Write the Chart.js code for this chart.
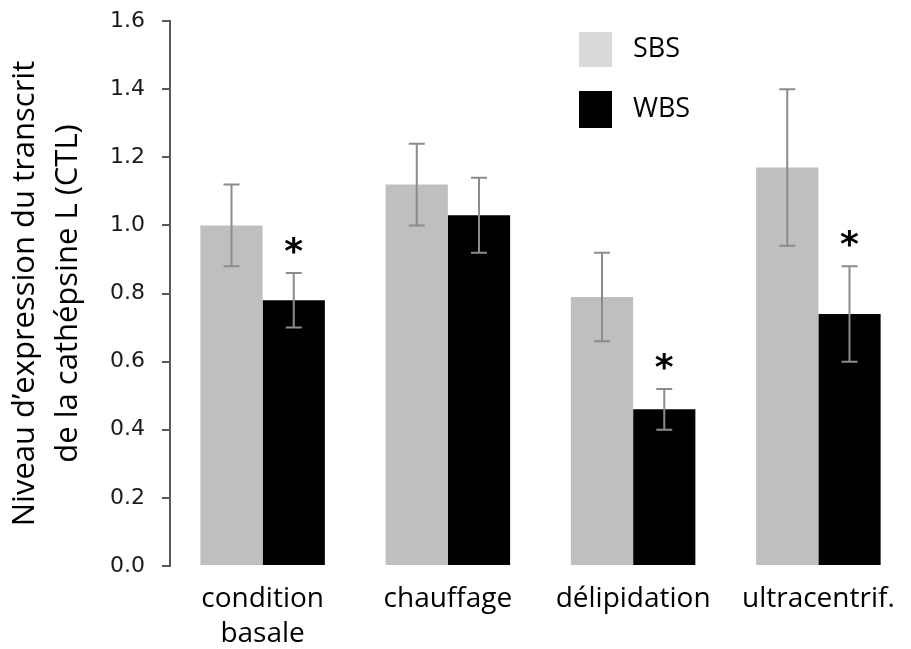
<!DOCTYPE html>
<html>
<head>
<meta charset="utf-8">
<script src="https://cdn.jsdelivr.net/npm/chart.js@4.4.1/dist/chart.umd.min.js"></script>
<style>
  html, body { margin: 0; padding: 0; background: #fff; }
</style>
</head>
<body>
<canvas id="chart" width="911" height="649"></canvas>
<script>
// data
const categories = [["condition", "basale"], "chauffage", "délipidation", "ultracentrif."]
const seriesNames = ["SBS", "WBS"]
const sbsValues = [1.00, 1.12, 0.79, 1.17]
const sbsErrors = [0.12, 0.12, 0.13, 0.23]
const wbsValues = [0.78, 1.03, 0.46, 0.74]
const wbsErrors = [0.08, 0.11, 0.06, 0.14]
const wbsSignificant = [true, false, true, true]
const yTicks = [0, 0.2, 0.4, 0.6, 0.8, 1.0, 1.2, 1.4, 1.6]

const TEXT_FONT = "'Open Sans', sans-serif"

// error bars + significance stars
const errorBarPlugin = {
  id: "errorBars",
  afterDatasetsDraw(chart) {
    const ctx = chart.ctx
    const y = chart.scales.y
    const errs = [sbsErrors, wbsErrors]
    ctx.save()
    chart.data.datasets.forEach((ds, i) => {
      const meta = chart.getDatasetMeta(i)
      meta.data.forEach((bar, j) => {
        const v = ds.data[j]
        const e = errs[i][j]
        const yTop = y.getPixelForValue(v + e)
        const yBot = y.getPixelForValue(v - e)
        ctx.strokeStyle = "#8c8c8c"
        ctx.lineWidth = 2
        ctx.beginPath()
        ctx.moveTo(bar.x, yTop); ctx.lineTo(bar.x, yBot)
        ctx.moveTo(bar.x - 8, yTop); ctx.lineTo(bar.x + 8, yTop)
        ctx.moveTo(bar.x - 8, yBot); ctx.lineTo(bar.x + 8, yBot)
        ctx.stroke()
        if (i === 1 && wbsSignificant[j]) {
          ctx.fillStyle = "#000"
          ctx.font = "bold 36px 'DejaVu Sans'"
          ctx.textAlign = "center"
          ctx.textBaseline = "alphabetic"
          ctx.fillText("*", bar.x, yTop - 10)
        }
      })
    })
    ctx.restore()
  }
}

// legend drawn inside the plot, top right
const legendPlugin = {
  id: "innerLegend",
  afterDraw(chart) {
    const ctx = chart.ctx
    const swatches = ["#d9d9d9", "#000000"]
    const rows = [{ y: 32, h: 35 }, { y: 91, h: 37 }]
    ctx.save()
    ctx.font = "27px " + TEXT_FONT
    ctx.textBaseline = "middle"
    ctx.textAlign = "left"
    seriesNames.forEach((name, i) => {
      ctx.fillStyle = swatches[i]
      ctx.fillRect(579, rows[i].y, 33, rows[i].h)
      ctx.fillStyle = "#000"
      ctx.fillText(name, 633, rows[i].y + rows[i].h / 2)
    })
    ctx.restore()
  }
}

new Chart(document.getElementById("chart"), {
  type: "bar",
  data: {
    labels: categories,
    datasets: [
      { label: seriesNames[0], data: sbsValues, backgroundColor: "#bfbfbf" },
      { label: seriesNames[1], data: wbsValues, backgroundColor: "#000000" }
    ]
  },
  options: {
    responsive: false,
    animation: false,
    devicePixelRatio: 1,
    layout: { padding: { left: 0, right: -9, top: 21, bottom: 0 } },
    datasets: {
      bar: { categoryPercentage: 0.672, barPercentage: 1.0 }
    },
    plugins: {
      legend: { display: false },
      tooltip: { enabled: false }
    },
    scales: {
      x: {
        grid: { display: false },
        border: { display: false },
        ticks: {
          color: "#000",
          padding: 8,
          maxRotation: 0,
          autoSkip: false,
          font: { family: TEXT_FONT, size: 28, lineHeight: 1.25 }
        },
        afterFit(scale) { scale.height = 83 }
      },
      y: {
        min: 0,
        max: 1.6,
        afterBuildTicks(scale) { scale.ticks = yTicks.map(v => ({ value: v })) },
        grid: { drawOnChartArea: false, drawTicks: true, tickLength: 8, color: "#595959", lineWidth: 2 },
        border: { display: true, color: "#595959", width: 2 },
        ticks: {
          color: "#1a1a1a",
          padding: 17,
          font: { family: "'DejaVu Sans'", size: 22 },
          callback: v => v.toFixed(1)
        },
        title: {
          display: true,
          text: ["Niveau d’expression du transcrit", "de la cathépsine L (CTL)"],
          color: "#000",
          padding: { top: 3, bottom: 0 },
          font: { family: TEXT_FONT, size: 31, lineHeight: 1.4 }
        },
        afterFit(scale) {
          scale.width = 170
          scale.paddingTop = 0
          scale.paddingBottom = 0
        }
      }
    }
  },
  plugins: [errorBarPlugin, legendPlugin]
})
</script>
</body>
</html>
